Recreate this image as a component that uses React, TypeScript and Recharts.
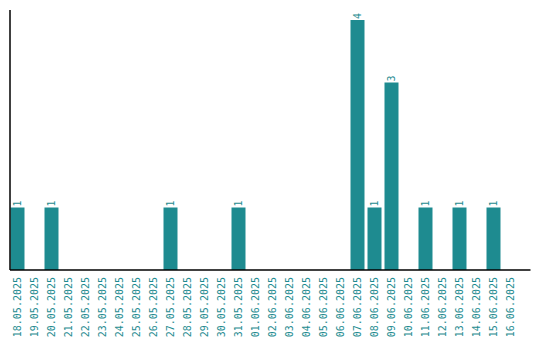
import React from 'react';
import { BarChart, Bar, XAxis, YAxis, LabelList } from 'recharts';

const dates = [
  '18.05.2025', '19.05.2025', '20.05.2025', '21.05.2025', '22.05.2025', '23.05.2025',
  '24.05.2025', '25.05.2025', '26.05.2025', '27.05.2025', '28.05.2025', '29.05.2025',
  '30.05.2025', '31.05.2025', '01.06.2025', '02.06.2025', '03.06.2025', '04.06.2025',
  '05.06.2025', '06.06.2025', '07.06.2025', '08.06.2025', '09.06.2025', '10.06.2025',
  '11.06.2025', '12.06.2025', '13.06.2025', '14.06.2025', '15.06.2025', '16.06.2025',
];
const counts = [
  1, 0, 1, 0, 0, 0,
  0, 0, 0, 1, 0, 0,
  0, 1, 0, 0, 0, 0,
  0, 0, 4, 1, 3, 0,
  1, 0, 1, 0, 1, 0,
];

const TEAL = '#1e8b90';
const FONT = '"DejaVu Sans Mono", monospace';

const chartData = dates.map((date, i) => ({ date, count: counts[i] }));

const DateTick = (props: any) => {
  const { x, y, payload } = props;
  return (
    <text
      x={x}
      y={y}
      dy="0.35em"
      transform={`rotate(-90, ${x}, ${y})`}
      textAnchor="end"
      fontSize={10}
      fontFamily={FONT}
      fill={TEAL}
    >
      {payload.value}
    </text>
  );
};

const ValueLabel = (props: any) => {
  const { x, y, width, value } = props;
  if (!value) return null;
  const cx = x + width / 2;
  const cy = y - 1;
  return (
    <text
      x={cx}
      y={cy}
      dy="0.35em"
      transform={`rotate(-90, ${cx}, ${cy})`}
      textAnchor="start"
      fontSize={10}
      fontFamily={FONT}
      fill={TEAL}
    >
      {value}
    </text>
  );
};

export default function App() {
  return (
    <BarChart
      width={524}
      height={332}
      data={chartData}
      margin={{ top: 2, right: 1.5, left: 1, bottom: 0 }}
    >
      <XAxis
        dataKey="date"
        interval={0}
        height={70}
        tickLine={false}
        tickSize={0}
        tickMargin={7}
        axisLine={{ stroke: '#000', strokeWidth: 1.5 }}
        tick={<DateTick />}
        padding={{ left: -1.5, right: 12 }}
      />
      <YAxis
        width={1}
        domain={[0, 4]}
        tick={false}
        tickLine={false}
        axisLine={{ stroke: '#000', strokeWidth: 1.5 }}
        padding={{ top: 10, bottom: 0 }}
      />
      <Bar dataKey="count" fill={TEAL} barSize={14} isAnimationActive={false}>
        <LabelList dataKey="count" content={<ValueLabel />} />
      </Bar>
    </BarChart>
  );
}
